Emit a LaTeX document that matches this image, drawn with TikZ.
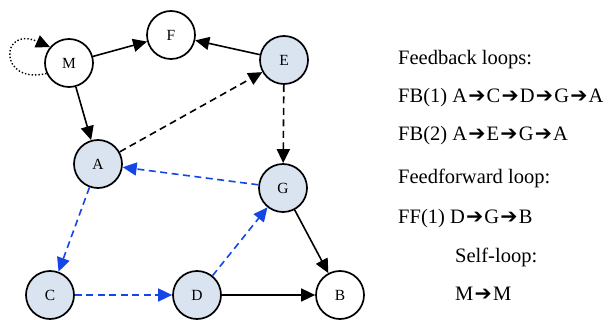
\documentclass[tikz,border=0pt]{standalone}
\usepackage{fontspec}
\setmainfont{Liberation Serif}
\newfontfamily\arrowfont{DejaVu Sans}
\usetikzlibrary{arrows.meta}
\newcommand{\ar}{\kern1.2pt{\arrowfont ➔}\kern1.2pt}
\begin{document}
\begin{tikzpicture}[x=1pt,y=-1pt,
  vert/.style={circle,draw=black,line width=1.7pt,minimum size=48pt,inner sep=0pt,font=\fontsize{15.5}{15.5}\selectfont},
  hi/.style={vert,fill=blueish},
  edge/.style={line width=1.6pt,-{Triangle[length=14pt,width=13pt]}},
  bdash/.style={edge,draw=blueline,-{Triangle[length=14pt,width=13pt,fill=blueline]},dash pattern=on 7pt off 4.5pt},
  kdash/.style={edge,dash pattern=on 7pt off 4.5pt},
  lbl/.style={anchor=base west,inner sep=0pt,font=\fontsize{20.5}{20.5}\selectfont}]
\definecolor{blueish}{HTML}{DAE3F0}
\definecolor{blueline}{HTML}{1446E6}
\useasboundingbox (0,0) rectangle (609,320);
\node[vert] (M) at (69,63) {M};
\node[vert] (F) at (171,35) {F};
\node[hi] (E) at (284,60) {E};
\node[hi] (A) at (98,164) {A};
\node[hi] (G) at (283,188) {G};
\node[hi] (C) at (50,295) {C};
\node[hi] (D) at (197,295) {D};
\node[vert] (B) at (340,295) {B};
\draw[edge] (M) -- (F);
\draw[edge] (M) -- (A);
\draw[edge] (E) -- (F);
\draw[kdash] (A) -- (E);
\draw[kdash] (E) -- (G);
\draw[bdash] (G) -- (A);
\draw[bdash] (A) -- (C);
\draw[bdash] (C) -- (D);
\draw[bdash] (D) -- (G);
\draw[edge] (G) -- (B);
\draw[edge] (D) -- (B);
\draw[line width=1.4pt,dotted,-{Triangle[length=14pt,width=13pt]}] (M.205) .. controls (-2,85) and (0,25) .. (M.140);
\node[lbl] (t1) at (398,65) {Feedback loops:};
\node[lbl] (t2) at (398,103) {FB(1) A\ar C\ar D\ar G\ar A};
\node[lbl] (t3) at (398,141) {FB(2) A\ar E\ar G\ar A};
\node[lbl] (t4) at (398,183) {Feedforward loop:};
\node[lbl] (t5) at (398,223) {FF(1) D\ar G\ar B};
\node[lbl] (t6) at (455,262) {Self-loop:};
\node[lbl] (t7) at (455,300) {M\ar M};
\end{tikzpicture}
\end{document}
